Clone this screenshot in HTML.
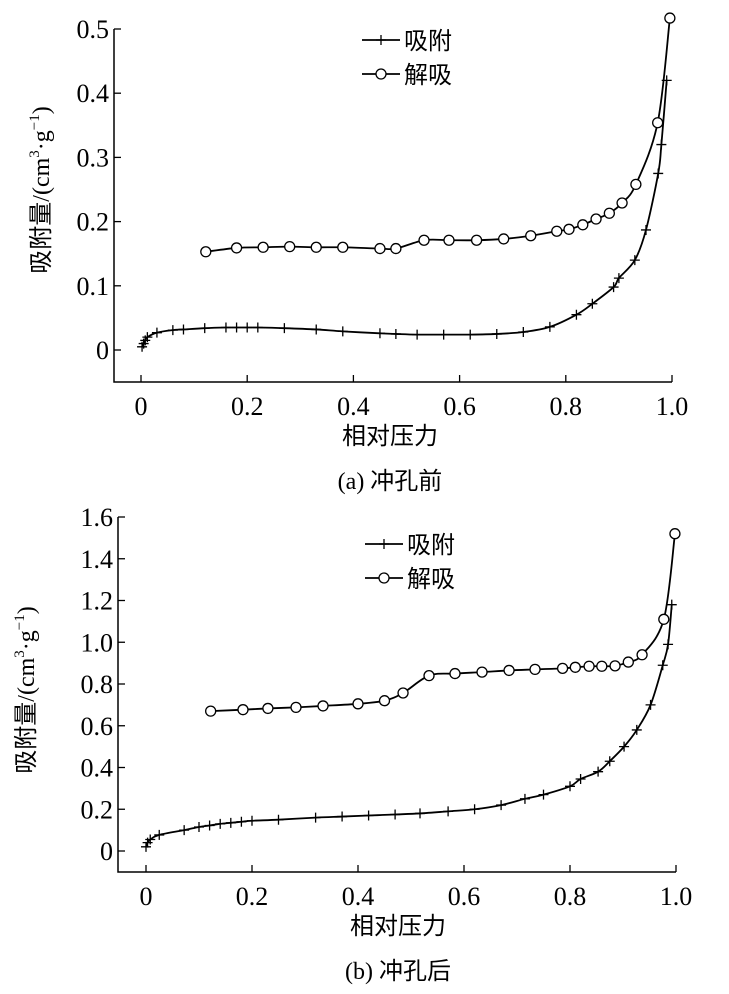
<!DOCTYPE html>
<html><head><meta charset="utf-8"><style>
body{margin:0;background:#fff;}
svg{display:block;}
text{fill:#000;}
.t{font-family:"Liberation Serif","Noto Serif CJK SC",serif;font-size:26px;}
.c{font-family:"Liberation Serif","Noto Sans CJK SC",sans-serif;font-size:24px;}
.yt{font-family:"Liberation Serif","Noto Sans CJK SC",sans-serif;font-size:24px;}
</style></head><body>
<svg id="svg" width="729" height="994" viewBox="0 0 729 994" xmlns="http://www.w3.org/2000/svg"></svg>
<script>
// Chart (a)
const aAdsX=[0.002,0.005,0.008,0.012,0.03,0.06,0.08,0.12,0.16,0.18,0.2,0.22,0.27,0.33,0.38,0.45,0.48,0.52,0.57,0.62,0.67,0.72,0.77,0.82,0.85,0.89,0.9,0.93,0.951,0.974,0.98,0.99];
const aAdsY=[0.005,0.01,0.015,0.02,0.027,0.031,0.032,0.034,0.035,0.035,0.035,0.035,0.034,0.032,0.029,0.026,0.025,0.024,0.024,0.024,0.025,0.028,0.036,0.055,0.072,0.098,0.112,0.14,0.187,0.275,0.32,0.42];
const aDesX=[0.122,0.18,0.23,0.28,0.33,0.38,0.45,0.48,0.533,0.58,0.632,0.683,0.734,0.783,0.806,0.832,0.857,0.882,0.906,0.932,0.973,0.996];
const aDesY=[0.153,0.159,0.16,0.161,0.16,0.16,0.158,0.158,0.171,0.171,0.171,0.173,0.178,0.185,0.188,0.195,0.204,0.213,0.229,0.258,0.354,0.517];
const aYTicks=[0,0.1,0.2,0.3,0.4,0.5];
const aYLabels=["0","0.1","0.2","0.3","0.4","0.5"];
// Chart (b)
const bAdsX=[0,0.003,0.008,0.025,0.072,0.1,0.12,0.14,0.16,0.18,0.2,0.25,0.32,0.37,0.42,0.47,0.517,0.57,0.62,0.67,0.715,0.75,0.8,0.82,0.853,0.875,0.902,0.926,0.952,0.975,0.985,0.992];
const bAdsY=[0.02,0.04,0.055,0.077,0.1,0.115,0.122,0.13,0.135,0.14,0.145,0.15,0.16,0.165,0.17,0.175,0.18,0.19,0.2,0.22,0.25,0.27,0.31,0.345,0.38,0.43,0.5,0.58,0.7,0.89,0.99,1.18];
const bDesX=[0.122,0.183,0.23,0.283,0.334,0.4,0.45,0.485,0.534,0.583,0.634,0.685,0.734,0.786,0.81,0.836,0.86,0.885,0.91,0.936,0.977,0.998];
const bDesY=[0.67,0.677,0.683,0.688,0.695,0.705,0.72,0.757,0.84,0.85,0.857,0.865,0.87,0.875,0.88,0.885,0.885,0.887,0.905,0.94,1.11,1.52];
const bYTicks=[0,0.2,0.4,0.6,0.8,1.0,1.2,1.4,1.6];
const bYLabels=["0","0.2","0.4","0.6","0.8","1.0","1.2","1.4","1.6"];
const xTicks=[0,0.2,0.4,0.6,0.8,1.0];
const xLabels=["0","0.2","0.4","0.6","0.8","1.0"];

const NS="http://www.w3.org/2000/svg";
const svg=document.getElementById('svg');
function mk(tag,attrs,parent){const e=document.createElementNS(NS,tag);for(const k in attrs)e.setAttribute(k,attrs[k]);(parent||svg).appendChild(e);return e;}
function smooth(pts){let d=`M${pts[0][0]},${pts[0][1]}`;for(let i=0;i<pts.length-1;i++){const p0=pts[Math.max(0,i-1)],p1=pts[i],p2=pts[i+1],p3=pts[Math.min(pts.length-1,i+2)];const c1x=p1[0]+(p2[0]-p0[0])/6,c1y=p1[1]+(p2[1]-p0[1])/6,c2x=p2[0]-(p3[0]-p1[0])/6,c2y=p2[1]-(p3[1]-p1[1])/6;d+=` C${c1x},${c1y} ${c2x},${c2y} ${p2[0]},${p2[1]}`;}return d;}

function chart(o){
  const g=mk('g',{});
  
  
  const sx=v=>o.x0+v*(o.x1-o.x0);
  const sy=v=>o.y0-(v/o.ymax)*(o.y0-o.ytop);
  const ax=mk('path',{d:`M${o.axL},${o.ytop} V${o.axB} H${o.x1}`,stroke:'#000','stroke-width':1.5,fill:'none'},g);
  
  
  o.yt.forEach((v,i)=>{const y=sy(v);mk('line',{x1:o.axL,x2:o.axL+7,y1:y,y2:y,stroke:'#000','stroke-width':1.3},g);
    const t=mk('text',{x:o.axL-5,y:y+9,'text-anchor':'end',class:'t'},g);t.textContent=o.yl[i];
    
    });
  xTicks.forEach((v,i)=>{const x=sx(v);mk('line',{x1:x,x2:x,y1:o.axB,y2:o.axB-7,stroke:'#000','stroke-width':1.3},g);
    const t=mk('text',{x:x,y:o.axB+33,'text-anchor':'middle',class:'t'},g);t.textContent=xLabels[i];
    
    });
  const ads=o.ax.map((v,i)=>[sx(v),sy(o.ay[i])]);
  const des=o.dx.map((v,i)=>[sx(v),sy(o.dy[i])]);
  const la=mk('path',{d:smooth(ads),stroke:'#000','stroke-width':1.8,fill:'none'},g);
  
  
  const ld=mk('path',{d:smooth(des),stroke:'#000','stroke-width':1.8,fill:'none'},g);
  
  
  ads.forEach(p=>{const m=mk('path',{d:`M${p[0]-5},${p[1]} h10 M${p[0]},${p[1]-5} v10`,stroke:'#000','stroke-width':1.3},g);
    
    });
  des.forEach(p=>{const m=mk('circle',{cx:p[0],cy:p[1],r:5,fill:'#fff',stroke:'#000','stroke-width':1.3},g);
    
    });
  const L=o.leg;
  mk('line',{x1:L.x,x2:L.x+38,y1:L.y,y2:L.y,stroke:'#000','stroke-width':1.8},g);
  mk('path',{d:`M${L.x+14},${L.y} h10 M${L.x+19},${L.y-5} v10`,stroke:'#000','stroke-width':1.3},g);
  const t1=mk('text',{x:L.x+42,y:L.y+9,class:'c'},g);t1.textContent='吸附';
  
  
  mk('line',{x1:L.x,x2:L.x+38,y1:L.y+34,y2:L.y+34,stroke:'#000','stroke-width':1.8},g);
  mk('circle',{cx:L.x+19,cy:L.y+34,r:5,fill:'#fff',stroke:'#000','stroke-width':1.3},g);
  const t2=mk('text',{x:L.x+42,y:L.y+43,class:'c'},g);t2.textContent='解吸';
  
  
  const yl=mk('text',{x:0,y:0,class:'yt','text-anchor':'middle',transform:`translate(${o.ylx},${o.yly}) rotate(-90)`},g);
  yl.innerHTML='吸附量/(cm<tspan font-size="15" dy="-10">3</tspan><tspan dy="10">·g</tspan><tspan font-size="15" dy="-10">−1</tspan><tspan dy="10">)</tspan>';
  
  
  const xl=mk('text',{x:o.cx,y:o.axB+62,class:'c','text-anchor':'middle'},g);xl.textContent='相对压力';
  
  
  const cp=mk('text',{x:o.cx,y:o.axB+107,class:'c','text-anchor':'middle'},g);cp.textContent=o.cap;
  
  
}
chart({name:'chart-a',x0:141,x1:672,y0:350,ytop:29,ymax:0.5,axL:114,axB:382,ax:aAdsX,ay:aAdsY,dx:aDesX,dy:aDesY,yt:aYTicks,yl:aYLabels,leg:{x:362,y:40},ylx:49,yly:190,cx:390,cap:'(a) 冲孔前'});
chart({name:'chart-b',x0:146,x1:676,y0:851,ytop:517,ymax:1.6,axL:118,axB:872,ax:bAdsX,ay:bAdsY,dx:bDesX,dy:bDesY,yt:bYTicks,yl:bYLabels,leg:{x:365,y:544},ylx:34,yly:690,cx:398,cap:'(b) 冲孔后'});
</script>
</body></html>
